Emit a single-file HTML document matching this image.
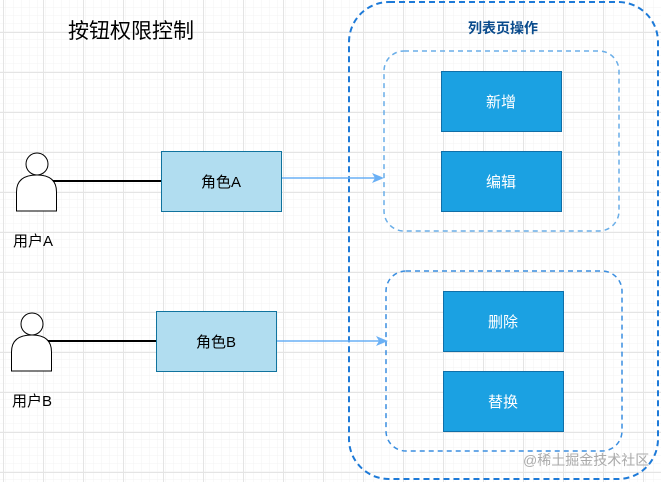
<!DOCTYPE html>
<html><head><meta charset="utf-8"><style>
body{margin:0;width:661px;height:482px;overflow:hidden;background:#fff;font-family:"Liberation Sans","Noto Sans CJK SC",sans-serif;}
</style></head><body>
<svg width="661" height="482" xmlns="http://www.w3.org/2000/svg" style="position:absolute;left:0;top:0">
<defs>
<pattern id="m" width="8" height="8" patternUnits="userSpaceOnUse" x="3" y="0"><path d="M8 0V8M0 8H8" stroke="#f3f3f3" stroke-width="1" fill="none"/></pattern>
<pattern id="g" width="40" height="40" patternUnits="userSpaceOnUse" x="3" y="32"><rect width="40" height="40" fill="url(#m)"/><path d="M0.5 0V40M0 0.5H40" stroke="#e4e4e4" stroke-width="1" fill="none"/></pattern>
</defs>
<rect width="661" height="482" fill="url(#g)"/>
<text x="68" y="38" font-size="21" fill="#000">按钮权限控制</text>
<rect x="349" y="2" width="309" height="477" rx="40" fill="none" stroke="#1d7ad8" stroke-width="2" stroke-dasharray="6 4"/>
<text x="503" y="33" font-size="14" font-weight="bold" fill="#0a4b8c" text-anchor="middle">列表页操作</text>
<rect x="384" y="51" width="235" height="180" rx="20" fill="none" stroke="#6aaee8" stroke-width="1.5" stroke-dasharray="5 4"/>
<rect x="386" y="271" width="236" height="180" rx="20" fill="none" stroke="#3a8ee0" stroke-width="1.5" stroke-dasharray="5 4"/>
<g fill="#1ba1e2" stroke="#0f6fa8" stroke-width="1">
<rect x="441.5" y="71.5" width="120" height="60"/><rect x="441.5" y="151.5" width="120" height="60"/>
<rect x="443.5" y="291.5" width="120" height="60"/><rect x="443.5" y="371.5" width="120" height="60"/>
</g>
<g fill="#fff" font-size="15" text-anchor="middle">
<text x="501" y="107">新增</text><text x="501" y="187">编辑</text>
<text x="503" y="327">删除</text><text x="503" y="407">替换</text>
</g>
<g fill="#b1ddf0" stroke="#10739e" stroke-width="1">
<rect x="161.5" y="151.5" width="120" height="60"/><rect x="156.5" y="311.5" width="120" height="60"/>
</g>
<g fill="#000" font-size="15" text-anchor="middle">
<text x="221" y="187">角色A</text><text x="216" y="347">角色B</text>
</g>
<g fill="#fff" stroke="#000" stroke-width="1">
<circle cx="37" cy="164" r="11"/><path d="M16.5 211V192Q16.5 175 37 175Q56.5 175 56.5 192V211Z"/>
<circle cx="32" cy="324" r="11"/><path d="M11.5 371V352Q11.5 335 32 335Q51.5 335 51.5 352V371Z"/>
</g>
<g stroke="#000" stroke-width="2"><line x1="53" y1="181" x2="161" y2="181"/><line x1="48" y1="341" x2="156" y2="341"/></g>
<g font-size="15" fill="#000"><text x="13" y="246">用户A</text><text x="12" y="406">用户B</text></g>
<g stroke="#6ab0f5" stroke-width="1.5"><line x1="282" y1="178" x2="378" y2="178"/><line x1="277" y1="341" x2="382" y2="341"/></g>
<g fill="#6ab0f5"><path d="M384 178L372 173L375 178L372 183Z"/><path d="M388 341L376 336L379 341L376 346Z"/></g>
<text x="523" y="465" font-size="14" fill="#aaa">@稀土掘金技术社区</text>
</svg>
</body></html>
